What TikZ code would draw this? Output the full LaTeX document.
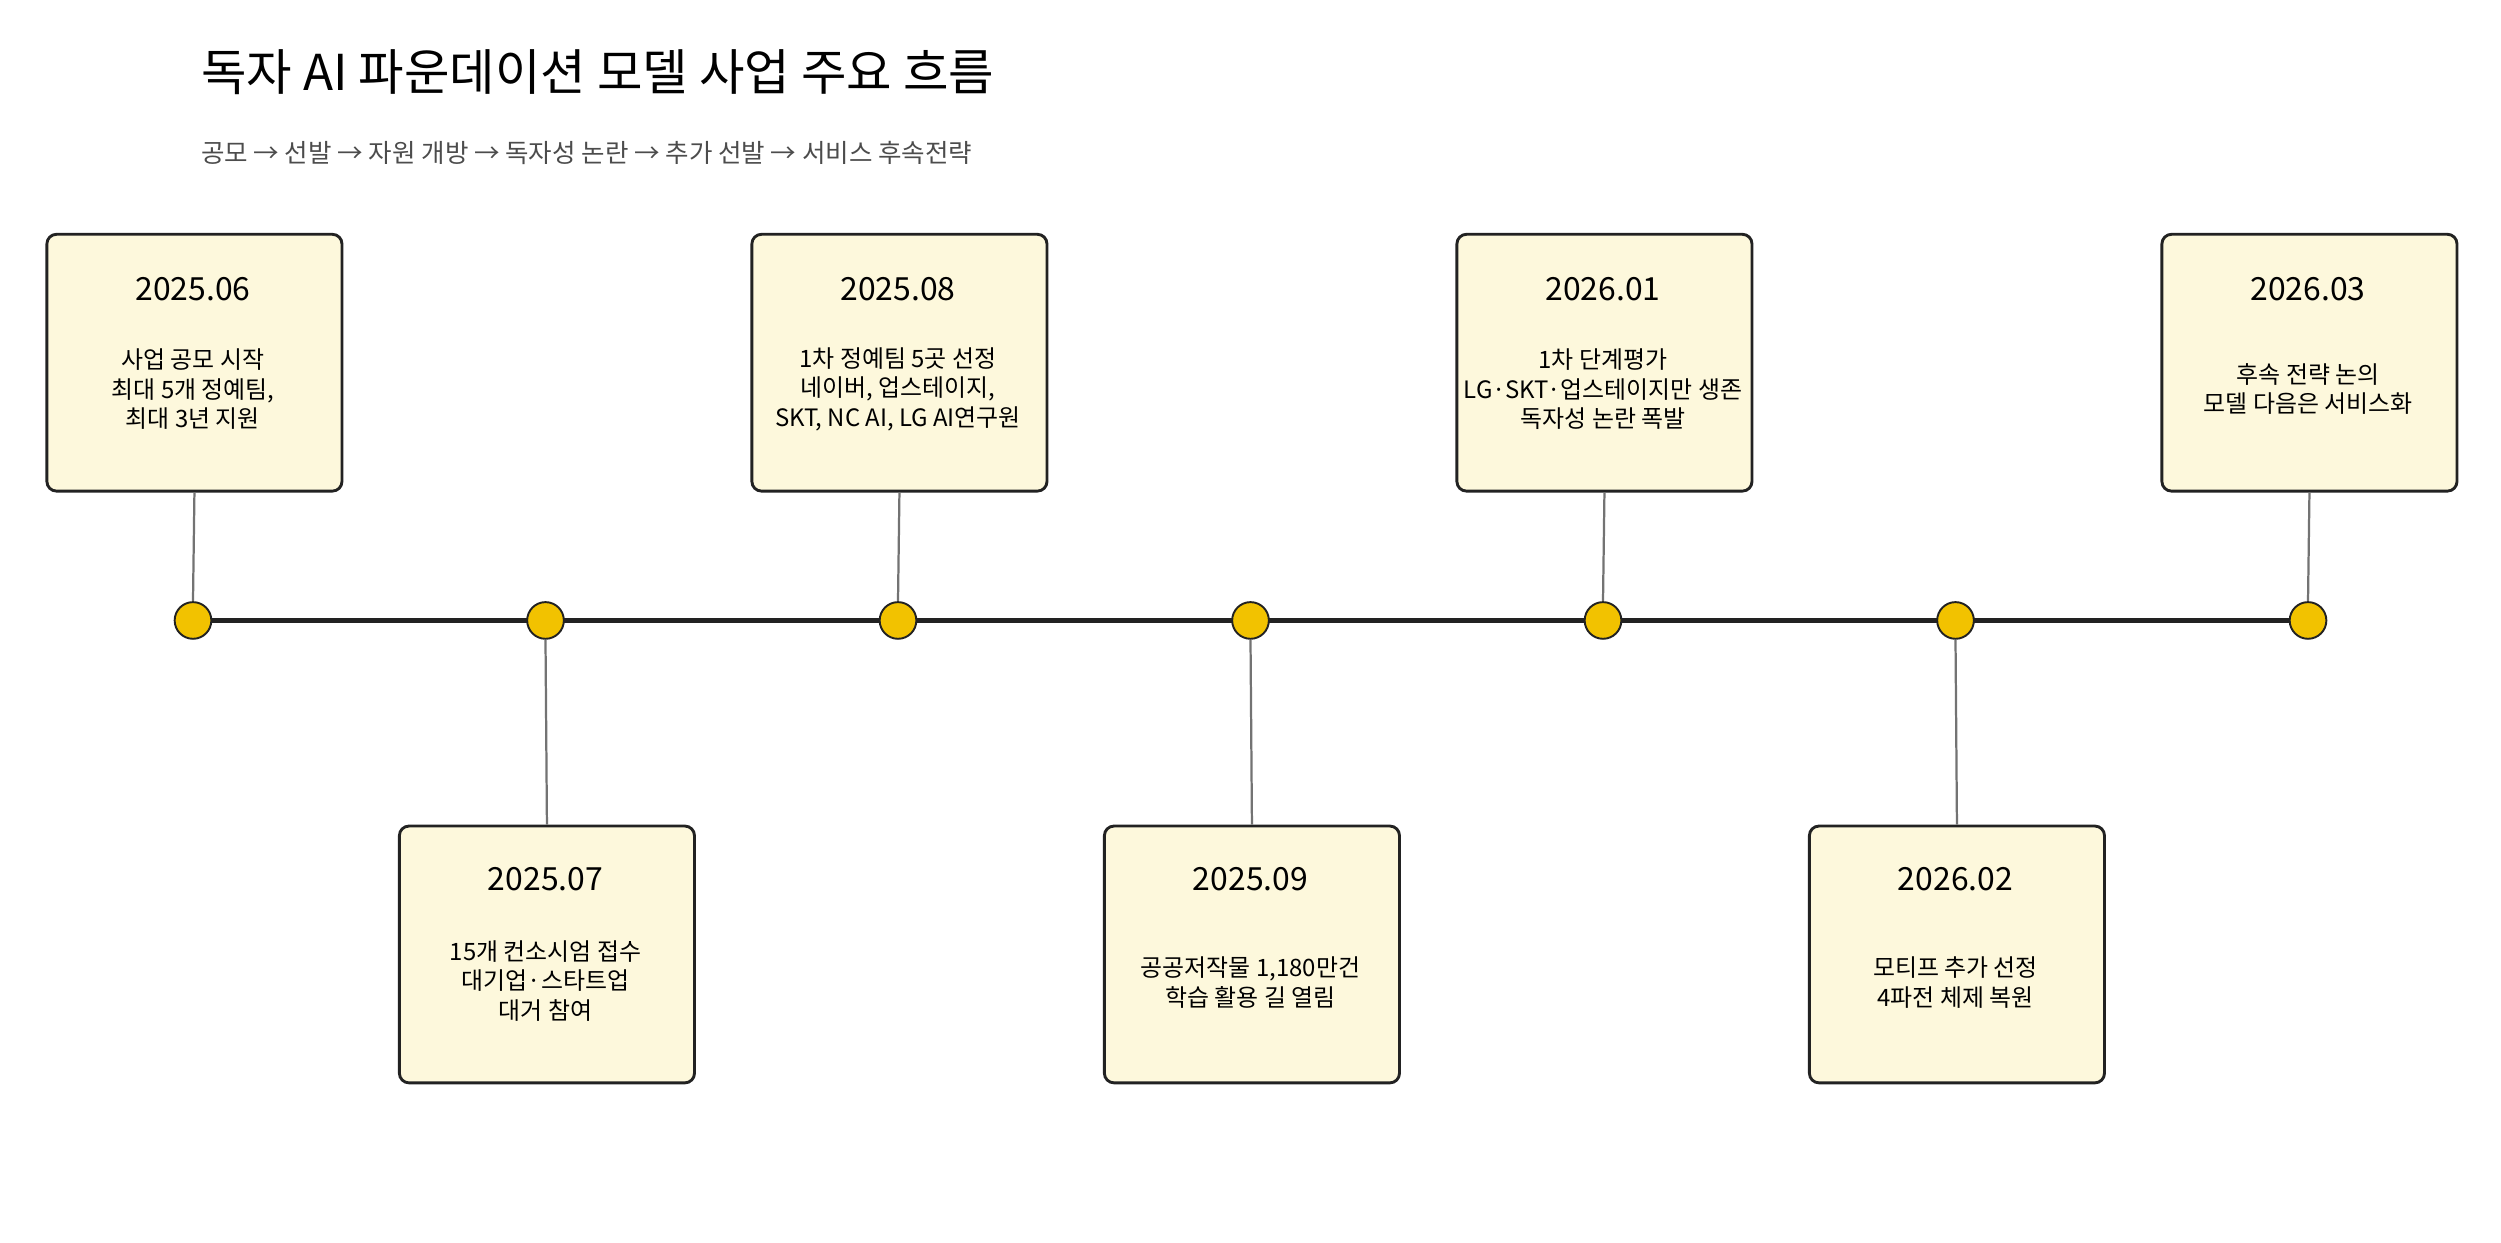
\documentclass[tikz,border=0pt]{standalone}
\usepackage{fontspec}
\setmainfont{Noto Sans CJK KR}
\definecolor{gold}{HTML}{F2C200}
\definecolor{boxfill}{HTML}{FDF8DC}
\definecolor{edge}{HTML}{222222}
\begin{document}
\begin{tikzpicture}[x=0.5pt,y=-0.5pt,
  card/.style={draw=edge,line width=0.9pt,fill=boxfill,rounded corners=3pt,minimum width=92.5pt,minimum height=80.5pt,anchor=north west,inner sep=0pt},
  dot/.style={circle,draw=edge,line width=0.6pt,fill=gold,minimum size=11.5pt,inner sep=0pt},
  stem/.style={draw=gray!90!black,line width=0.7pt},
  date/.style={font=\fontsize{10}{12}\selectfont},
  body/.style={font=\fontsize{7.5}{9.2}\selectfont,align=center}]
\useasboundingbox (0,0) rectangle (1568,779);
\node[anchor=west,font=\fontsize{15.5}{18}\selectfont] (title) at (119,45) {독자 AI 파운데이션 모델 사업 주요 흐름};
\node[anchor=west,font=\fontsize{8}{10}\selectfont,text=black!70] (sub) at (119,96) {공모 → 선발 → 자원 개방 → 독자성 논란 → 추가 선발 → 서비스 후속전략};
\coordinate (L) at (121,389); \coordinate (R) at (1447,389);
\draw[edge,line width=1.6pt] (L) -- (R);
% top cards
\foreach \n/\x/\d/\t in {a/121/2025.06/{사업 공모 시작\\최대 5개 정예팀,\\최대 3년 지원},
  c/563/2025.08/{1차 정예팀 5곳 선정\\네이버, 업스테이지,\\SKT, NC AI, LG AI연구원},
  e/1005/2026.01/{1차 단계평가\\LG·SKT·업스테이지만 생존\\독자성 논란 폭발},
  g/1447/2026.03/{후속 전략 논의\\모델 다음은 서비스화}}{
  \node[card] (box\n) at (\x-92.5,146) {};
  \node[date] (d\n) at (\x,181) {\d};
  \node[body] (t\n) at (\x,244) {\t};
  \node[dot] (p\n) at (\x,389) {};
  \draw[stem] (box\n.south) -- (p\n.north);
}
\foreach \n/\x/\d/\t/\ty in {b/342/2025.07/{15개 컨소시엄 접수\\대기업·스타트업\\대거 참여}/615,
  d/784/2025.09/{공공저작물 1,180만건\\학습 활용 길 열림}/616,
  f/1226/2026.02/{모티프 추가 선정\\4파전 체제 복원}/616}{
  \node[card] (box\n) at (\x-92.5,517) {};
  \node[date] (d\n) at (\x,551) {\d};
  \node[body] (t\n) at (\x,\ty) {\t};
  \node[dot] (p\n) at (\x,389) {};
  \draw[stem] (p\n.south) -- (box\n.north);
}
\end{tikzpicture}
\end{document}
